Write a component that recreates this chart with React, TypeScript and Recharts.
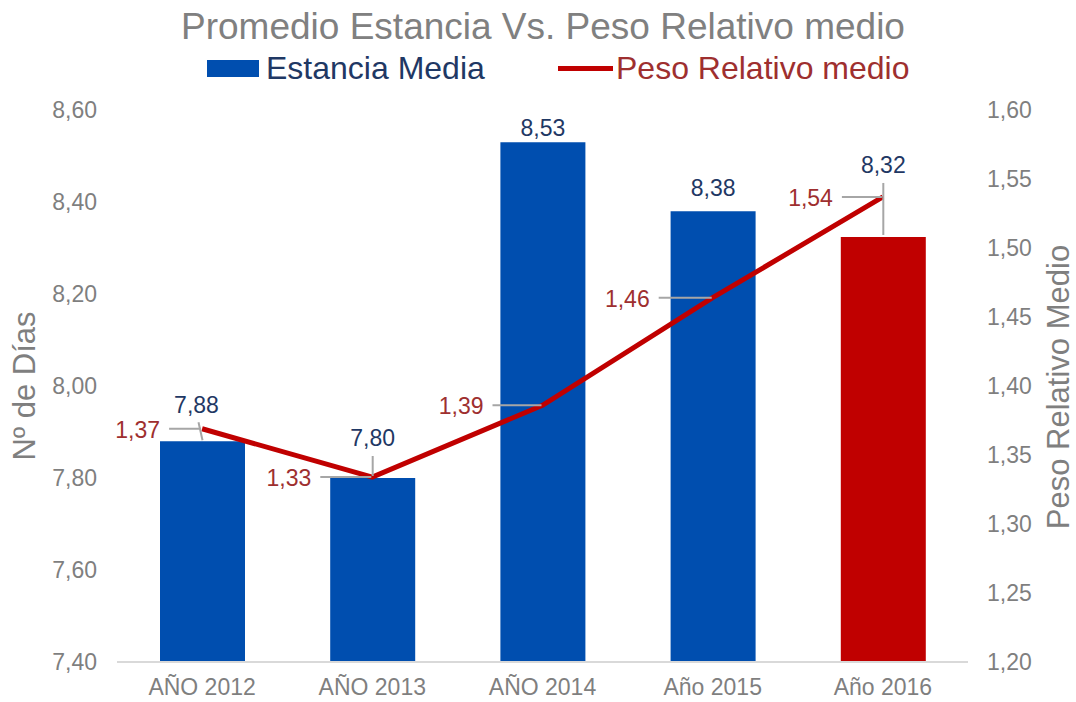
import { Bar, Cell, ComposedChart, Label, LabelList, Line, XAxis, YAxis } from 'recharts'

document.body.style.margin = '0'

// Estancia media (días) y peso relativo medio por año
const categories = ['AÑO 2012', 'AÑO 2013', 'AÑO 2014', 'Año 2015', 'Año 2016']
const estanciaMedia = [7.88, 7.8, 8.53, 8.38, 8.324]
const pesoRelativo = [1.369, 1.334, 1.386, 1.464, 1.537]
const leftTicks = [7.4, 7.6, 7.8, 8.0, 8.2, 8.4, 8.6]
const rightTicks = [1.2, 1.25, 1.3, 1.35, 1.4, 1.45, 1.5, 1.55, 1.6]

const data = categories.map((name, i) => ({
  name,
  estancia: estanciaMedia[i],
  peso: pesoRelativo[i],
}))

const FONT = '"Liberation Sans", Arial, sans-serif'
const BLUE = '#004EAF'
const RED = '#C00000'
const GREY = '#7F7F7F'
const NAVY = '#1F3864'
const DARK_RED = '#9E2F2F'
const LEADER = '#A6A6A6'

const fmt = (v: number) => Number(v).toFixed(2).replace('.', ',')

// label placement relative to bar top centre: text dx, baseline dy, optional leader line
const barLabelLayout: { dx: number; dy: number; leader?: number[] }[] = [
  { dx: -6, dy: -28, leader: [-4, -19, 0, -1] },
  { dx: 0, dy: -32, leader: [0, -22, 0, -2] },
  { dx: 0, dy: -6 },
  { dx: 0, dy: -15 },
  { dx: 0, dy: -64, leader: [0, -54, 0, -2] },
]

// gap between line point and right edge of its label
const lineLabelGap = [42, 61, 59, 63, 50]

function BarValueLabel(props: any) {
  const { x, y, width, value, index } = props
  const cx = Number(x) + Number(width) / 2
  const top = Number(y)
  const l = barLabelLayout[index] || { dx: 0, dy: -8 }
  return (
    <g>
      {l.leader && (
        <line
          x1={cx + l.leader[0]}
          y1={top + l.leader[1]}
          x2={cx + l.leader[2]}
          y2={top + l.leader[3]}
          stroke={LEADER}
          strokeWidth={2}
        />
      )}
      <text
        x={cx + l.dx}
        y={top + l.dy}
        textAnchor='middle'
        fill={NAVY}
        fontSize={23}
        fontFamily={FONT}
      >
        {fmt(value)}
      </text>
    </g>
  )
}

function LineValueLabel(props: any) {
  const { x, y, value, index } = props
  const px = Number(x)
  const py = Number(y)
  const gap = lineLabelGap[index] ?? 50
  const right = px - gap
  return (
    <g>
      <line x1={right + 9} y1={py} x2={px - 1} y2={py} stroke={LEADER} strokeWidth={2} />
      <text
        x={right}
        y={py + 1}
        textAnchor='end'
        dominantBaseline='central'
        fill={DARK_RED}
        fontSize={23}
        fontFamily={FONT}
      >
        {fmt(value)}
      </text>
    </g>
  )
}

export default function App() {
  return (
    <div style={{ position: 'relative', width: 1076, height: 702, fontFamily: FONT }}>
      <div
        style={{
          position: 'absolute',
          left: 543,
          top: 8,
          transform: 'translateX(-50%)',
          whiteSpace: 'nowrap',
          fontSize: 37,
          lineHeight: 1,
          color: '#808080',
        }}
      >
        Promedio Estancia Vs. Peso Relativo medio
      </div>
      <div style={{ position: 'absolute', left: 207, top: 60, width: 52, height: 17, background: BLUE }} />
      <div
        style={{ position: 'absolute', left: 266, top: 52, fontSize: 32, lineHeight: 1, color: NAVY, whiteSpace: 'nowrap' }}
      >
        Estancia Media
      </div>
      <div style={{ position: 'absolute', left: 558, top: 66, width: 55, height: 5, background: RED }} />
      <div
        style={{ position: 'absolute', left: 616, top: 52, fontSize: 32, lineHeight: 1, color: DARK_RED, whiteSpace: 'nowrap' }}
      >
        Peso Relativo medio
      </div>
      <ComposedChart
        width={1076}
        height={702}
        data={data}
        margin={{ top: 110, right: 0, bottom: 0, left: 0 }}
        style={{ position: 'absolute', left: 0, top: 0 }}
      >
        <XAxis
          dataKey='name'
          height={40}
          tickLine={false}
          tickSize={0}
          tickMargin={17}
          axisLine={{ stroke: '#D9D9D9', strokeWidth: 2 }}
          tick={{ fill: GREY, fontSize: 23, fontFamily: FONT }}
        />
        <YAxis
          yAxisId='left'
          orientation='left'
          width={117}
          domain={[7.4, 8.6]}
          ticks={leftTicks}
          tickFormatter={fmt}
          axisLine={false}
          tickLine={false}
          tickSize={0}
          tickMargin={20}
          tick={{ fill: GREY, fontSize: 23, fontFamily: FONT }}
        >
          <Label
            content={() => (
              <text
                x={24}
                y={386}
                transform='rotate(-90 24 386)'
                textAnchor='middle'
                dominantBaseline='central'
                fill={GREY}
                fontSize={31}
                fontFamily={FONT}
              >
                Nº de Días
              </text>
            )}
          />
        </YAxis>
        <YAxis
          yAxisId='right'
          orientation='right'
          width={108}
          domain={[1.2, 1.6]}
          ticks={rightTicks}
          tickFormatter={fmt}
          axisLine={false}
          tickLine={false}
          tickSize={0}
          tickMargin={19}
          tick={{ fill: GREY, fontSize: 23, fontFamily: FONT }}
        >
          <Label
            content={() => (
              <text
                x={1058}
                y={387}
                transform='rotate(-90 1058 387)'
                textAnchor='middle'
                dominantBaseline='central'
                fill={GREY}
                fontSize={31}
                fontFamily={FONT}
              >
                Peso Relativo Medio
              </text>
            )}
          />
        </YAxis>
        <Bar yAxisId='left' dataKey='estancia' barSize={85} fill={BLUE} isAnimationActive={false}>
          {data.map((d, i) => (
            <Cell key={d.name} fill={i === data.length - 1 ? RED : BLUE} />
          ))}
          <LabelList dataKey='estancia' content={BarValueLabel} />
        </Bar>
        <Line
          yAxisId='right'
          type='linear'
          dataKey='peso'
          stroke={RED}
          strokeWidth={5}
          dot={false}
          activeDot={false}
          isAnimationActive={false}
        >
          <LabelList dataKey='peso' content={LineValueLabel} />
        </Line>
      </ComposedChart>
    </div>
  )
}
